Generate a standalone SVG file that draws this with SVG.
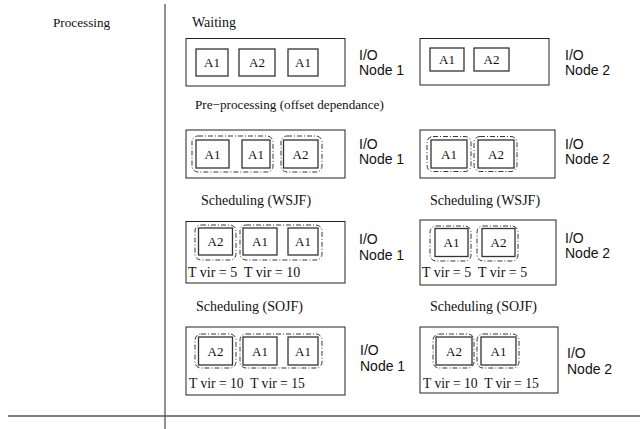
<svg xmlns="http://www.w3.org/2000/svg" width="641" height="429" viewBox="0 0 641 429">
<style>
.t{font-family:"Liberation Serif","Times New Roman",serif;font-size:14px;fill:#111;white-space:pre}
.s{font-family:"Liberation Sans",Arial,sans-serif;font-size:14px;fill:#111}
.a{font-family:"Liberation Serif","Times New Roman",serif;font-size:13px;fill:#111;text-anchor:middle}
.frame{fill:none;stroke:#222;stroke-width:1}
.job{fill:none;stroke:#333;stroke-width:1.3}
.grp{fill:none;stroke:#222;stroke-width:0.9;stroke-dasharray:5 2 1 2}
.div{stroke:#555;stroke-width:1.3}
</style>
<g id="axes">
<line class="div" x1="165" y1="4" x2="165" y2="429"/>
<line class="div" x1="8" y1="416" x2="640" y2="416"/>
</g>
<text class="t" x="53" y="27" style="font-size:13.2px">Processing</text>

<!-- Row 1 -->
<text class="t" x="192" y="27">Waiting</text>
<g id="w1">
<rect class="frame" x="186" y="38.5" width="159" height="47.5"/>
<rect class="job" x="196" y="49" width="32" height="27"/><text class="a" x="212" y="67">A1</text>
<rect class="job" x="239" y="49" width="36" height="27"/><text class="a" x="257" y="67">A2</text>
<rect class="job" x="288" y="49" width="30" height="27"/><text class="a" x="303" y="67">A1</text>
<text class="s" x="359" y="59.5">I/O</text><text class="s" x="359" y="74.5">Node 1</text>
</g>
<g id="w2">
<rect class="frame" x="420" y="38.5" width="129" height="46.5"/>
<rect class="job" x="430" y="48" width="34" height="23"/><text class="a" x="447" y="64">A1</text>
<rect class="job" x="474" y="48" width="35" height="23"/><text class="a" x="491.5" y="64">A2</text>
<text class="s" x="565" y="59.5">I/O</text><text class="s" x="565" y="74.5">Node 2</text>
</g>

<!-- Row 2 -->
<text class="t" x="195" y="109" style="font-size:13.2px">Pre−processing (offset dependance)</text>
<g id="p1">
<rect class="frame" x="186" y="130" width="159" height="48"/>
<rect class="grp" x="192" y="136" width="81" height="36" rx="6"/>
<rect class="grp" x="281" y="136" width="41" height="36" rx="6"/>
<rect class="job" x="196" y="140" width="33" height="28"/><text class="a" x="212.5" y="159">A1</text>
<rect class="job" x="242" y="140" width="28" height="28"/><text class="a" x="256" y="159">A1</text>
<rect class="job" x="283.5" y="140" width="34.5" height="28"/><text class="a" x="300.5" y="159">A2</text>
<text class="s" x="359" y="148.5">I/O</text><text class="s" x="359" y="163.5">Node 1</text>
</g>
<g id="p2">
<rect class="frame" x="420" y="130" width="135" height="48"/>
<rect class="grp" x="427" y="136.5" width="44" height="35" rx="6"/>
<rect class="grp" x="474" y="136.5" width="43" height="35" rx="6"/>
<rect class="job" x="431" y="140" width="36" height="28"/><text class="a" x="449" y="159">A1</text>
<rect class="job" x="478" y="140" width="36" height="28"/><text class="a" x="496" y="159">A2</text>
<text class="s" x="565" y="148.5">I/O</text><text class="s" x="565" y="163.5">Node 2</text>
</g>

<!-- Row 3 -->
<text class="t" x="201" y="205">Scheduling (WSJF)</text>
<text class="t" x="430" y="205">Scheduling (WSJF)</text>
<g id="ws1">
<rect class="frame" x="186" y="221.5" width="159" height="61.5"/>
<rect class="grp" x="195" y="225" width="41" height="35" rx="6"/>
<rect class="grp" x="240" y="225" width="82" height="35" rx="6"/>
<rect class="job" x="198.5" y="228" width="34" height="27"/><text class="a" x="215.5" y="246">A2</text>
<rect class="job" x="243" y="228" width="34" height="27"/><text class="a" x="260" y="246">A1</text>
<rect class="job" x="288" y="228" width="30" height="27"/><text class="a" x="303" y="246">A1</text>
<text class="t" x="188" y="277">T vir = 5  T vir = 10</text>
<text class="s" x="359" y="244">I/O</text><text class="s" x="359" y="259.5">Node 1</text>
</g>
<g id="ws2">
<rect class="frame" x="420" y="220" width="136" height="65"/>
<rect class="grp" x="430" y="226" width="41" height="35" rx="6"/>
<rect class="grp" x="477" y="226" width="41" height="35" rx="6"/>
<rect class="job" x="435" y="228.5" width="33" height="28"/><text class="a" x="451.5" y="247">A1</text>
<rect class="job" x="482" y="228.5" width="33" height="28"/><text class="a" x="498.5" y="247">A2</text>
<text class="t" x="422" y="277">T vir = 5  T vir = 5</text>
<text class="s" x="565" y="243">I/O</text><text class="s" x="565" y="258">Node 2</text>
</g>

<!-- Row 4 -->
<text class="t" x="196" y="311">Scheduling (SOJF)</text>
<text class="t" x="430" y="311">Scheduling (SOJF)</text>
<g id="so1">
<rect class="frame" x="186" y="327" width="159" height="68"/>
<rect class="grp" x="195" y="334" width="41" height="34" rx="6"/>
<rect class="grp" x="240" y="334" width="82" height="34" rx="6"/>
<rect class="job" x="198.5" y="337" width="34" height="28"/><text class="a" x="215.5" y="356">A2</text>
<rect class="job" x="243" y="337" width="34" height="28"/><text class="a" x="260" y="356">A1</text>
<rect class="job" x="288" y="337" width="30" height="28"/><text class="a" x="303" y="356">A1</text>
<text class="t" x="189" y="388" style="font-size:13.6px">T vir = 10  T vir = 15</text>
<text class="s" x="360" y="355">I/O</text><text class="s" x="360" y="371">Node 1</text>
</g>
<g id="so2">
<rect class="frame" x="420" y="327" width="138" height="66"/>
<rect class="grp" x="433" y="334" width="41" height="34" rx="6"/>
<rect class="grp" x="477" y="334" width="42" height="34" rx="6"/>
<rect class="job" x="436" y="337" width="36" height="28"/><text class="a" x="454" y="356">A2</text>
<rect class="job" x="481" y="337" width="35" height="28"/><text class="a" x="498.5" y="356">A1</text>
<text class="t" x="423" y="388" style="font-size:13.6px">T vir = 10  T vir = 15</text>
<text class="s" x="567" y="357.5">I/O</text><text class="s" x="567" y="373.5">Node 2</text>
</g>
<g id="connectors"/>
</svg>
